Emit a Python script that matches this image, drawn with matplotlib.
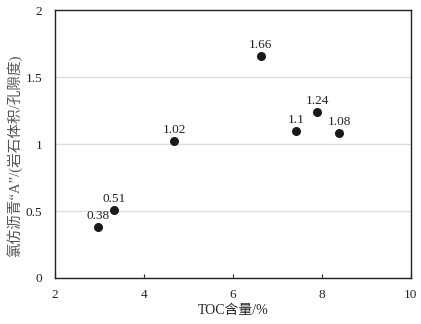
import matplotlib
matplotlib.use("Agg")
import matplotlib.pyplot as plt

toc = [2.97, 3.33, 4.68, 6.63, 7.42, 7.90, 8.39]
ratio = [0.38, 0.51, 1.02, 1.66, 1.10, 1.24, 1.08]
labels = ["0.38", "0.51", "1.02", "1.66", "1.1", "1.24", "1.08"]

plt.rcParams["font.family"] = ["Liberation Serif", "Noto Sans CJK SC"]

fig = plt.figure(figsize=(4.21, 3.24), dpi=100)
ax = fig.add_axes([0.1306, 0.142, 0.8454, 0.827])

ax.scatter(toc, ratio, s=30, color="#1a1a1a", zorder=3)
for x, y, t in zip(toc, ratio, labels):
    ax.annotate(t, (x, y), xytext=(0, 3.5), textcoords="offset points",
                ha="center", va="bottom", fontsize=9.5, color="#222222")

ax.set_xlim(2, 10)
ax.set_ylim(0, 2)
ax.set_xticks([2, 4, 6, 8, 10])
ax.set_yticks([0, 0.5, 1, 1.5, 2])
ax.set_yticklabels(["0", "0.5", "1", "1.5", "2"])
ax.yaxis.grid(True, color="#dddddd", linewidth=1)
ax.set_axisbelow(True)
ax.tick_params(axis="x", direction="in", length=3, labelsize=9.5, pad=8,
               colors="#222222")
ax.tick_params(axis="y", length=0, labelsize=9.5, pad=9, colors="#222222")
for s in ax.spines.values():
    s.set_color("#222222")
    s.set_linewidth(1)

ax.set_xlabel("TOC含量/%", fontsize=10, labelpad=2, color="#222222")
fig.text(15 / 421, 1 - 156 / 324, "氯仿沥青“A”/(岩石体积/孔隙度)",
         rotation=90, ha="center", va="center", fontsize=10.5, color="#555555")

fig.savefig("out.png", dpi=100)
